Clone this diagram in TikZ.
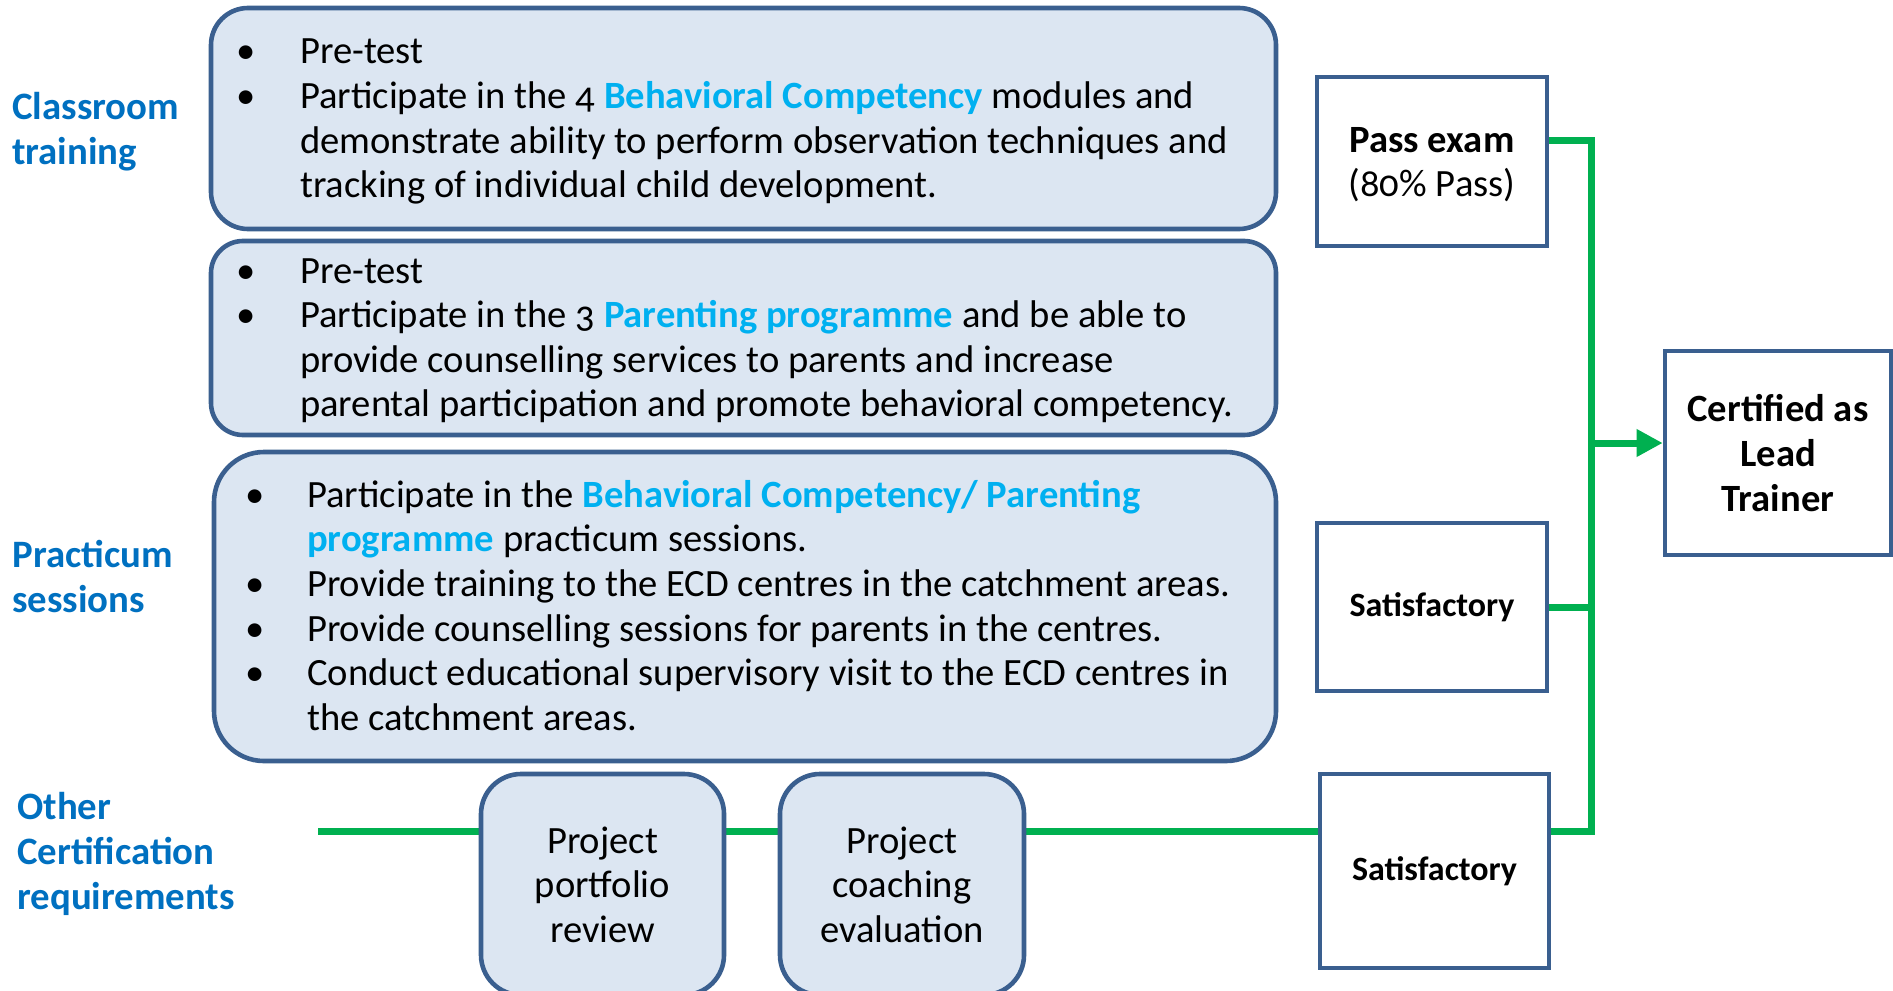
\documentclass[tikz,border=0pt]{standalone}
\usepackage{fontspec}
\setmainfont{Carlito}[Numbers=OldStyle]
\usetikzlibrary{arrows.meta,backgrounds}
\definecolor{bordc}{HTML}{3A5F8F}
\definecolor{fillc}{HTML}{DCE6F2}
\definecolor{labc}{HTML}{0070C0}
\definecolor{hic}{HTML}{00B0F0}
\definecolor{grc}{HTML}{00B050}
\newcommand\hlt[1]{\textcolor{hic}{\textbf{#1}}}
\begin{document}
\begin{tikzpicture}[x=0.5pt,y=-0.5pt,
  rbox/.style={draw=bordc,fill=fillc,line width=2.3pt,inner sep=0pt},
  sbox/.style={draw=bordc,fill=white,line width=2.3pt,inner sep=0pt,align=center},
  lab/.style={anchor=west,align=left,text=labc,font=\bfseries\fontsize{19.4}{22.4}\selectfont,inner sep=0pt},
  body/.style={anchor=west,inner sep=0pt,font=\fontsize{19.3}{22.3}\selectfont},
  big/.style={font=\fontsize{19.3}{22.3}\selectfont},
  conn/.style={draw=grc,line width=3.5pt,line join=miter}
]
\useasboundingbox (0,0) rectangle (1893,990);

% left labels
\node[lab] (l1) at (12,132) {Classroom\\training};
\node[lab] (l2) at (12,576.5) {Practicum\\sessions};
\node[lab] (l3) at (17,854) {Other\\Certification\\requirements};

% large rounded boxes
\node[rbox,rounded corners=18.5pt,minimum width=532.5pt,minimum height=110.5pt] (b1) at (743.5,118.5) {};
\node[rbox,rounded corners=16pt,minimum width=532.5pt,minimum height=97pt] (b2) at (743.5,338) {};
\node[rbox,rounded corners=25pt,minimum width=531pt,minimum height=154.5pt] (b3) at (745,606.5) {};

\node[body] (t1) at ([xshift=13.5pt,yshift=-1.7pt]b1.west) {\begin{tabular}{@{}p{32pt}@{}l@{}}
\textbullet & Pre-test\\
\textbullet & Participate in the 4 \hlt{Behavioral Competency} modules and\\
 & demonstrate ability to perform observation techniques and\\
 & tracking of individual child development.
\end{tabular}};
\node[body] (t2) at ([xshift=13.5pt,yshift=-1.5pt]b2.west) {\begin{tabular}{@{}p{32pt}@{}l@{}}
\textbullet & Pre-test\\
\textbullet & Participate in the 3 \hlt{Parenting programme} and be able to\\
 & provide counselling services to parents and increase\\
 & parental participation and promote behavioral competency.
\end{tabular}};
\node[body] (t3) at ([xshift=16.5pt,yshift=-1.7pt]b3.west) {\begin{tabular}{@{}p{31pt}@{}l@{}}
\textbullet & Participate in the \hlt{Behavioral Competency/ Parenting}\\
 & \hlt{programme} practicum sessions.\\
\textbullet & Provide training to the ECD centres in the catchment areas.\\
\textbullet & Provide counselling sessions for parents in the centres.\\
\textbullet & Conduct educational supervisory visit to the ECD centres in\\
 & the catchment areas.
\end{tabular}};

% small rounded boxes
\node[rbox,big,align=center,rounded corners=20pt,minimum width=121.5pt,minimum height=110.5pt] (pp) at (602.5,884.5) {Project\\portfolio\\review};
\node[rbox,big,align=center,rounded corners=20pt,minimum width=122pt,minimum height=110.5pt] (pc) at (902,884.5) {Project\\coaching\\evaluation};

% square boxes
\node[sbox,minimum width=115pt,minimum height=84.5pt] (pass) at (1432,161.5) {};
\node[big,align=center,inner sep=0pt] (passT) at ([yshift=-1.6pt]pass.center) {\textbf{Pass exam}\\(80\% Pass)};
\node[sbox,font=\bfseries\fontsize{17}{20}\selectfont,minimum width=115pt,minimum height=84pt] (sat1) at (1432,607) {Satisfactory};
\node[sbox,font=\bfseries\fontsize{17}{20}\selectfont,minimum width=114.5pt,minimum height=97pt] (sat2) at (1434.5,871) {Satisfactory};
\node[sbox,font=\bfseries\fontsize{19.3}{22.3}\selectfont,minimum width=113pt,minimum height=102pt] (cert) at (1778,453) {Certified as\\Lead\\Trainer};

% connectors
\coordinate (start) at (318,831);
\coordinate (trTop) at (1591,140);
\coordinate (trBot) at (1591,831);
\coordinate (trArr) at (1591,443);
\begin{scope}[on background layer]
\draw[conn] (start) -- (start -| sat2.west);
\end{scope}
\draw[conn] (pass.east |- trTop) -- (trTop) -- (trBot) -- (sat2.east |- trBot);
\draw[conn] (sat1.east) -- (sat1.east -| trTop);
\draw[conn,-{Triangle[length=13pt,width=13pt]}] (trArr) -- (trArr -| cert.west);
\end{tikzpicture}
\end{document}
